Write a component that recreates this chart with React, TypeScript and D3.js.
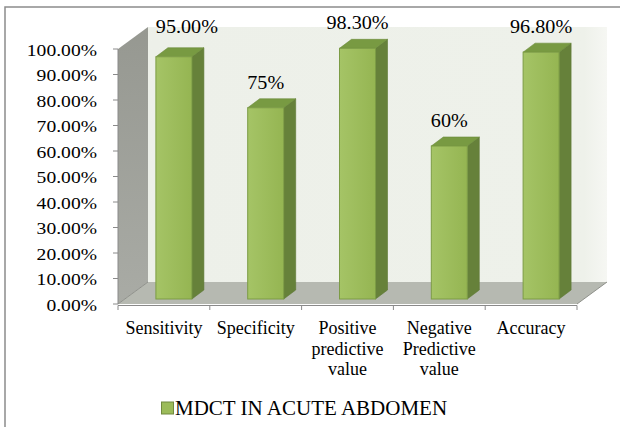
import React from 'react';
import * as d3 from 'd3';

// chart data
const categories = ['Sensitivity', 'Specificity', 'Positive predictive value', 'Negative Predictive value', 'Accuracy'];
const categoryLines = [['Sensitivity'], ['Specificity'], ['Positive', 'predictive', 'value'], ['Negative', 'Predictive', 'value'], ['Accuracy']];
const values = [95, 75, 98.3, 60, 96.8];
const valueLabels = ['95.00%', '75%', '98.30%', '60%', '96.80%'];
const yTickValues = [0, 10, 20, 30, 40, 50, 60, 70, 80, 90, 100];
const seriesName = 'MDCT IN ACUTE ABDOMEN';

const W = 620;
const H = 427;
const FONT = "'Liberation Serif', 'Times New Roman', Tinos, serif";
const STRETCH = 1.12; // numbers in the picture look a bit wider than Times

// 3D box: front plane + depth vector
const DEPTH = { dx: 30, dy: -22 };
const BAR_OFF = { dx: 10, dy: -5 };
const BAR_DEPTH = { dx: 12, dy: -9 };
const BAR_W = 36;

function App() {
  const x = d3.scaleBand<string>().domain(categories).range([118, 577]).padding(0);
  const y = d3.scaleLinear().domain([0, 100]).range([304, 49]);
  const fmt = (d: number) => d3.format('.2f')(d) + '%';

  const x0 = x.range()[0];
  const x1 = x.range()[1];
  const yb = y(0);
  const yt = y(100);

  const pts = (arr: number[][]) => arr.map(p => p.join(',')).join(' ');

  const backWall = pts([[x0 + DEPTH.dx, yt + DEPTH.dy], [x1 + DEPTH.dx, yt + DEPTH.dy], [x1 + DEPTH.dx, yb + DEPTH.dy], [x0 + DEPTH.dx, yb + DEPTH.dy]]);
  const sideWall = pts([[x0, yt], [x0 + DEPTH.dx, yt + DEPTH.dy], [x0 + DEPTH.dx, yb + DEPTH.dy], [x0, yb]]);
  const floor = pts([[x0, yb], [x0 + DEPTH.dx, yb + DEPTH.dy], [x1 + DEPTH.dx, yb + DEPTH.dy], [x1, yb]]);

  const txt = { fontFamily: FONT, fill: '#000' };

  return (
    <svg width={W} height={H} style={{ position: 'absolute', left: 0, top: 0, background: '#fff', fontFamily: FONT }}>
      <defs>
        <linearGradient id="front" x1="0" x2="1" y1="0" y2="0">
          <stop offset="0" stopColor="#a5c466" />
          <stop offset="1" stopColor="#95b552" />
        </linearGradient>
        <linearGradient id="side" x1="0" x2="0" y1="0" y2="1">
          <stop offset="0" stopColor="#969891" />
          <stop offset="1" stopColor="#a9aba5" />
        </linearGradient>
        <linearGradient id="back" x1="0" x2="1" y1="0" y2="0">
          <stop offset="0" stopColor="#edf0e9" />
          <stop offset="0.95" stopColor="#eef1ea" />
          <stop offset="1" stopColor="#f6f7f3" />
        </linearGradient>
      </defs>

      {/* chart area border, cropped at right and bottom */}
      <rect x={5} y={7} width={W + 40} height={H + 40} fill="none" stroke="#8c8c8c" strokeWidth={1.5} />

      {/* walls */}
      <polygon points={backWall} fill="url(#back)" />
      <polygon points={sideWall} fill="url(#side)" />
      <polygon points={floor} fill="#b6b9b1" />
      <line x1={x1} y1={yb} x2={x1 + DEPTH.dx} y2={yb + DEPTH.dy} stroke="#8f918b" strokeWidth={1} />
      <line x1={x0} y1={yb} x2={x0 + DEPTH.dx} y2={yb + DEPTH.dy} stroke="#8f918b" strokeWidth={1} />

      {/* y axis */}
      <line x1={x0} y1={yt} x2={x0} y2={yb} stroke="#8a8a8a" />
      {yTickValues.map(t => (
        <g key={t}>
          <line x1={x0 - 5} x2={x0} y1={y(t)} y2={y(t)} stroke="#8a8a8a" />
          <text transform={`translate(${x0 - 21},${y(t) + 6.5}) scale(${STRETCH},1)`} textAnchor="end" fontSize={17.5} style={txt}>
            {fmt(t)}
          </text>
        </g>
      ))}

      {/* x axis */}
      <line x1={x0} y1={yb + 1.5} x2={x1} y2={yb + 1.5} stroke="#8a8a8a" />
      {[...categories.map(c => x(c) as number), x1].map((px, i) => (
        <line key={i} x1={px} x2={px} y1={yb + 1.5} y2={yb + 6} stroke="#8a8a8a" />
      ))}
      {categories.map((c, i) => (
        <text key={c} textAnchor="middle" fontSize={18} style={txt}>
          {categoryLines[i].map((ln, j) => (
            <tspan key={j} x={(x(c) as number) + x.bandwidth() / 2} y={334 + j * 20.5}>{ln}</tspan>
          ))}
        </text>
      ))}

      {/* bars */}
      {categories.map((c, i) => {
        const fx = (x(c) as number) + x.bandwidth() / 2 - BAR_W / 2 + BAR_OFF.dx;
        const fb = y(0) + BAR_OFF.dy;
        const ft = y(values[i]) + BAR_OFF.dy;
        const top = pts([[fx, ft], [fx + BAR_DEPTH.dx, ft + BAR_DEPTH.dy], [fx + BAR_W + BAR_DEPTH.dx, ft + BAR_DEPTH.dy], [fx + BAR_W, ft]]);
        const side = pts([[fx + BAR_W, ft], [fx + BAR_W + BAR_DEPTH.dx, ft + BAR_DEPTH.dy], [fx + BAR_W + BAR_DEPTH.dx, fb + BAR_DEPTH.dy], [fx + BAR_W, fb]]);
        const nudge = i === 0 ? { dx: 13, dy: -5 } : { dx: 0, dy: 0 };
        return (
          <g key={c}>
            <polygon points={side} fill="#66813a" stroke="#5d7733" strokeWidth={0.6} />
            <polygon points={top} fill="#789a42" stroke="#6a8a39" strokeWidth={0.6} />
            <rect x={fx} y={ft} width={BAR_W} height={fb - ft} fill="url(#front)" stroke="#7c9c45" strokeWidth={1} />
            <text transform={`translate(${fx + BAR_W / 2 + nudge.dx},${ft - 19 + nudge.dy}) scale(${STRETCH},1)`} textAnchor="middle" fontSize={18} style={txt}>
              {valueLabels[i]}
            </text>
          </g>
        );
      })}

      {/* legend */}
      <rect x={161.5} y={402} width={12} height={12} fill="#9bbb59" stroke="#71893f" strokeWidth={1} />
      <text x={175} y={415} fontSize={21} style={txt}>{seriesName}</text>
    </svg>
  );
}

export default App;
